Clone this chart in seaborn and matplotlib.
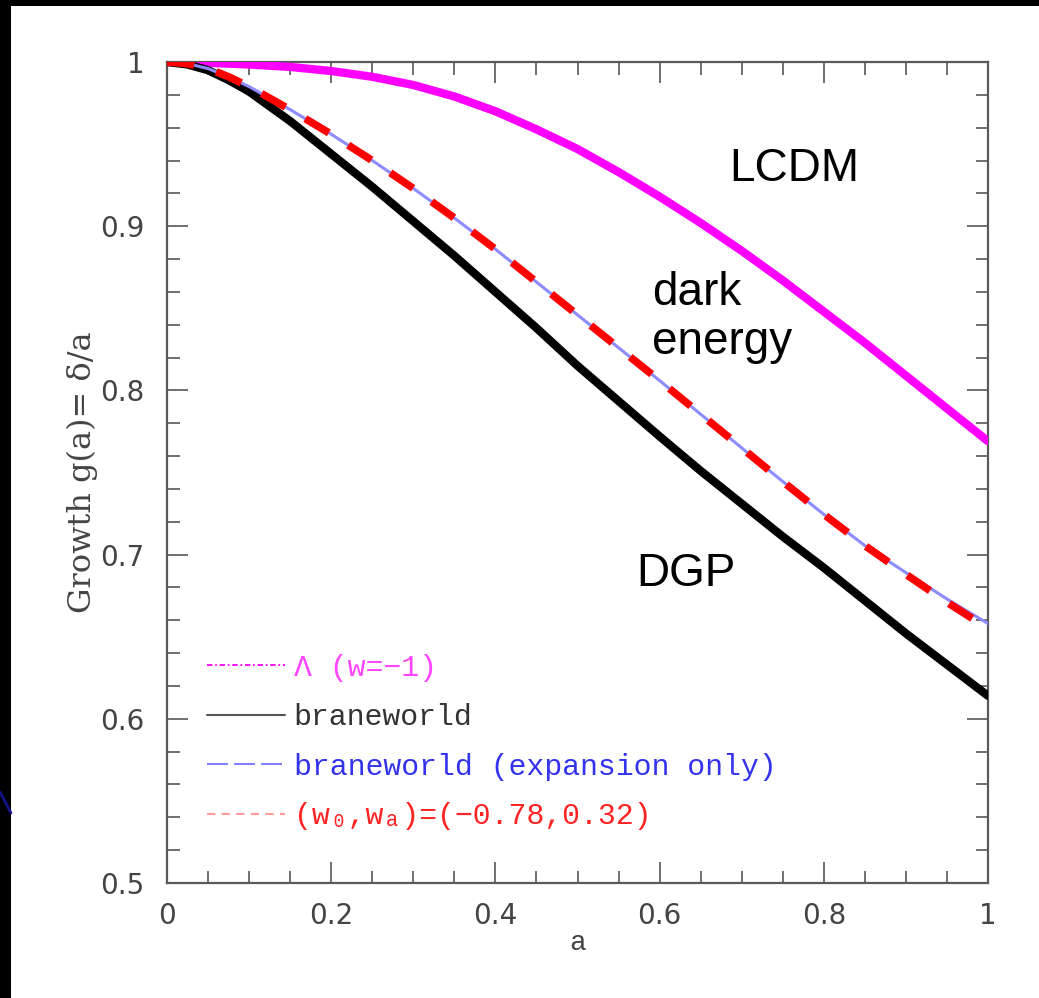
import numpy as np
import pandas as pd
import matplotlib
matplotlib.use("Agg")
import matplotlib.pyplot as plt
from matplotlib.lines import Line2D
from matplotlib.patches import Rectangle
import seaborn as sns

# ---------------- data ----------------
a_vals = [0.000, 0.025, 0.050, 0.075, 0.10, 0.15, 0.20, 0.25, 0.30, 0.35, 0.40, 0.45, 0.50,
          0.55, 0.60, 0.65, 0.70, 0.75, 0.80, 0.85, 0.90, 0.95, 1.00]
g_lcdm = [1.000, 1.000, 0.9995, 0.999, 0.9985, 0.997, 0.9945, 0.991, 0.986, 0.979, 0.970,
          0.959, 0.947, 0.933, 0.918, 0.902, 0.885, 0.867, 0.848, 0.829, 0.809, 0.789, 0.769]
g_brane = [1.000, 0.9985, 0.995, 0.989, 0.982, 0.964, 0.944, 0.924, 0.903, 0.882, 0.860,
           0.838, 0.815, 0.7935, 0.772, 0.751, 0.731, 0.711, 0.692, 0.672, 0.652, 0.633, 0.614]
g_brane_exp = [1.000, 0.999, 0.996, 0.991, 0.985, 0.971, 0.956, 0.940, 0.923, 0.905, 0.886,
               0.866, 0.846, 0.826, 0.806, 0.7855, 0.765, 0.7445, 0.7245, 0.7055, 0.689,
               0.673, 0.658]
g_w0wa = [1.000, 0.999, 0.996, 0.991, 0.985, 0.971, 0.956, 0.940, 0.923, 0.905, 0.886,
          0.866, 0.846, 0.826, 0.806, 0.7855, 0.765, 0.7445, 0.7245, 0.7055, 0.688,
          0.671, 0.655]

legend_labels = ["\u039b (w=\u22121)", "braneworld", "braneworld (expansion only)",
                 "(w\u2080,w\u2090)=(\u22120.78,0.32)"]
x_ticks = [0, 0.2, 0.4, 0.6, 0.8, 1]
x_ticklabels = ["0", "0.2", "0.4", "0.6", "0.8", "1"]
y_ticks = [0.5, 0.6, 0.7, 0.8, 0.9, 1]
y_ticklabels = ["0.5", "0.6", "0.7", "0.8", "0.9", "1"]

# ---------------- style ----------------
sns.set_style("ticks")
plt.rcParams["font.family"] = ["DejaVu Sans"]
mono = ["Liberation Mono", "DejaVu Sans Mono", "DejaVu Sans"]

W, H = 1039, 998
fig = plt.figure(figsize=(W / 100, H / 100), dpi=100, facecolor="white")
ax = fig.add_axes([167 / W, 1 - 883 / H, 821 / W, 821 / H])

# black slide border pieces
fig.patches.append(Rectangle((0, 0), 11 / W, 1, transform=fig.transFigure,
                             facecolor="black", edgecolor="none", zorder=0))
fig.patches.append(Rectangle((0, 1 - 6 / H), 1, 6 / H, transform=fig.transFigure,
                             facecolor="black", edgecolor="none", zorder=0))
fig.lines.append(Line2D([0, 11 / W], [1 - 792 / H, 1 - 813 / H], transform=fig.transFigure,
                        color="#14148a", lw=2))

# ---------------- curves ----------------
sns.lineplot(x=a_vals, y=g_lcdm, ax=ax, color="#ff00ff", lw=6, legend=False, zorder=3)
sns.lineplot(x=a_vals, y=g_brane, ax=ax, color="black", lw=6, legend=False, zorder=3)
sns.lineplot(x=a_vals, y=g_brane_exp, ax=ax, color="#8c8cff", lw=2.2, legend=False, zorder=4)
sns.lineplot(x=a_vals, y=g_w0wa, ax=ax, color="#ff0000", lw=5.5, legend=False, zorder=5,
             linestyle=(0, (3.6, 3.0)))

ax.set_xlim(0, 1)
ax.set_ylim(0.5, 1)
ax.set_xticks(x_ticks)
ax.set_xticklabels(x_ticklabels)
ax.set_yticks(y_ticks)
ax.set_yticklabels(y_ticklabels)
ax.set_xticks(np.arange(0, 1.0001, 0.05), minor=True)
ax.set_yticks(np.arange(0.5, 1.0001, 0.02), minor=True)

ax.tick_params(which="both", direction="in", top=True, right=True, color="#707070", width=1.4)
ax.tick_params(which="major", length=15, labelsize=20, labelcolor="#444444")
ax.tick_params(which="minor", length=9)
ax.tick_params(axis="x", which="major", pad=14)
ax.tick_params(axis="y", which="major", pad=16)
for sp in ax.spines.values():
    sp.set_color("#5a5a5a")
    sp.set_linewidth(1.6)

ax.set_xlabel("a", fontsize=20, family=mono, color="#444444", labelpad=0)
ax.set_ylabel("Growth g(a)= \u03b4/a", fontsize=23, family=["DejaVu Serif"], color="#444444",
              labelpad=2)

# ---------------- annotations ----------------
ax.text(0.764, 0.935, "LCDM", fontsize=33, family=["Liberation Sans"], ha="center",
        va="center", color="black")
ax.text(0.591, 0.873, "dark\nenergy", fontsize=33, family=["Liberation Sans"], ha="left",
        va="top", color="black", linespacing=1.15)
ax.text(0.632, 0.688, "DGP", fontsize=33, family=["Liberation Sans"], ha="center",
        va="center", color="black")

# ---------------- legend ----------------
handles = [
    Line2D([], [], color="#ff00ff", lw=1.3, ls=(0, (3, 1.5, 1, 1.5))),
    Line2D([], [], color="#555555", lw=1.5, ls="-"),
    Line2D([], [], color="#8080ff", lw=1.5, ls=(0, (10, 3))),
    Line2D([], [], color="#ff9a9a", lw=1.5, ls=(0, (4, 3))),
]
leg = ax.legend(handles, legend_labels, loc="upper left", bbox_to_anchor=(0.049, 0.279),
                frameon=False, handlelength=2.6, handletextpad=0.3, labelspacing=0.72,
                borderpad=0, borderaxespad=0,
                prop={"family": mono, "size": 21.5})
for t, c in zip(leg.get_texts(), ["#ff44ff", "#333333", "#3333ee", "#ff2222"]):
    t.set_color(c)

fig.savefig("out.png", dpi=100, facecolor="white")
